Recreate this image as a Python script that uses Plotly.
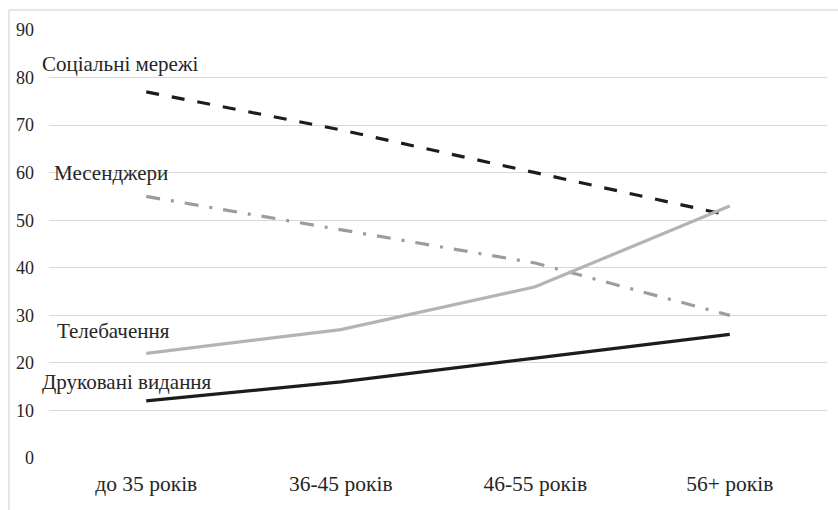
import plotly.graph_objects as go

# Age groups on the x axis
age_groups = ["до 35 років", "36-45 років", "46-55 років", "56+ років"]

# Share of respondents (%) using each information source
social_networks = [77, 69, 60, 51]
messengers = [55, 48, 41, 30]
television = [22, 27, 36, 53]
print_media = [12, 16, 21, 26]

y_ticks = [0, 10, 20, 30, 40, 50, 60, 70, 80, 90]

FONT = "Liberation Serif"
TEXT = "#262626"

fig = go.Figure()

fig.add_trace(go.Scatter(
    x=age_groups, y=social_networks, mode="lines", name="Соціальні мережі",
    line=dict(color="#1c1c1c", width=3.2, dash="13px,13px"),
))
fig.add_trace(go.Scatter(
    x=age_groups, y=messengers, mode="lines", name="Месенджери",
    line=dict(color="#9c9c9c", width=3.2, dash="14px,11px,3px,11px"),
))
fig.add_trace(go.Scatter(
    x=age_groups, y=television, mode="lines", name="Телебачення",
    line=dict(color="#b4b4b4", width=3.2),
))
fig.add_trace(go.Scatter(
    x=age_groups, y=print_media, mode="lines", name="Друковані видання",
    line=dict(color="#1c1c1c", width=3.2),
))

# Series names written next to the first point of each line
labels = [
    ("Соціальні мережі", -0.0116, 0.9206),
    ("Месенджери", 0.0039, 0.6659),
    ("Телебачення", 0.0077, 0.2967),
    ("Друковані видання", -0.0116, 0.1776),
]
for text, px, py in labels:
    fig.add_annotation(
        text=text, x=px, y=py, xref="paper", yref="paper",
        xanchor="left", yanchor="middle", showarrow=False,
        font=dict(family=FONT, size=21, color=TEXT),
    )

# Chart-area frame (left and top edges)
fig.add_shape(
    type="line", xref="paper", yref="paper",
    x0=-0.0514, y0=-0.13, x1=-0.0514, y1=1.0467,
    line=dict(color="#dedede", width=1.5),
)
fig.add_shape(
    type="line", xref="paper", yref="paper",
    x0=-0.0514, y0=1.0467, x1=1.02, y1=1.0467,
    line=dict(color="#dedede", width=1.5),
)

fig.update_layout(
    width=838, height=510,
    margin=dict(l=49, r=11, t=30, b=52),
    paper_bgcolor="white", plot_bgcolor="white",
    showlegend=False,
    font=dict(family=FONT, size=18, color=TEXT),
    xaxis=dict(
        type="category", range=[-0.5, 3.5],
        showgrid=False, zeroline=False, showline=False, ticks="",
        tickfont=dict(family=FONT, size=21.5, color=TEXT),
        ticklabelstandoff=10,
    ),
    yaxis=dict(
        range=[0, 90], tickvals=y_ticks,
        showgrid=True, gridcolor="#d9d9d9", gridwidth=1,
        zeroline=False, showline=False, ticks="",
        tickfont=dict(family=FONT, size=18, color=TEXT),
        ticklabelstandoff=14,
    ),
)

fig.write_html("out.html")
